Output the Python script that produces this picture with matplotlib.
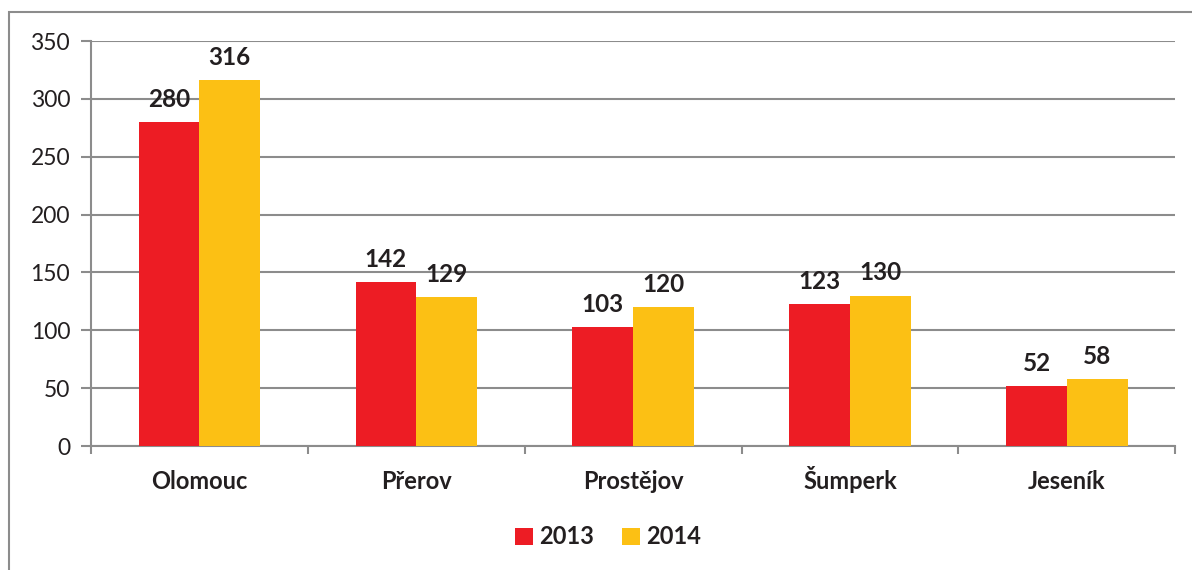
import numpy as np
from matplotlib import pyplot as plt
from matplotlib.patches import Rectangle

districts = ["Olomouc", "Přerov", "Prostějov", "Šumperk", "Jeseník"]
values_2013 = [280, 142, 103, 123, 52]
values_2014 = [316, 129, 120, 130, 58]
years = ["2013", "2014"]

red = "#ED1C24"
yellow = "#FCC014"
grey = "#8C8C8C"
dark = "#231F20"

plt.rcParams['font.family'] = ['Lato', 'DejaVu Sans']

fig = plt.figure(figsize=(11.92, 5.70), dpi=100)
ax = fig.add_axes([0.0763, 0.2175, 0.9097, 0.7105])

# outer chart frame (cut off at right and bottom like the original)
frame = Rectangle((9 / 1192, -0.05), 1.1, 1 - 12 / 570 + 0.05,
                  transform=fig.transFigure, fill=False,
                  edgecolor=grey, linewidth=1.5, clip_on=False)
fig.patches.append(frame)

x = np.arange(len(districts))
w = 0.28
bars1 = ax.bar(x - w / 2, values_2013, w, color=red, label=years[0], zorder=3)
bars2 = ax.bar(x + w / 2, values_2014, w, color=yellow, label=years[1], zorder=3)

for bars in (bars1, bars2):
    for b in bars:
        ax.annotate(str(int(b.get_height())),
                    (b.get_x() + b.get_width() / 2, b.get_height()),
                    xytext=(0, 8), textcoords="offset points",
                    ha="center", va="bottom", fontsize=17.5,
                    fontweight="bold", color=dark)

ax.set_xlim(-0.5, len(districts) - 0.5)
ax.set_ylim(0, 350)
ax.set_yticks(np.arange(0, 351, 50))
ax.yaxis.grid(True, color=grey, linewidth=1.5, zorder=0)
ax.set_axisbelow(True)

ax.set_xticks(x)
ax.set_xticklabels(districts, fontsize=17, fontweight="bold", color=dark,
                   va="baseline")
ax.tick_params(axis="x", length=0, pad=31)
ax.set_xticks(np.arange(-0.5, len(districts)), minor=True)
ax.tick_params(axis="x", which="minor", length=6, width=1.5, color=grey)
ax.tick_params(axis="y", length=7, width=1.5, color=grey, labelsize=16.5,
               labelcolor=dark, pad=8)

for s in ["top", "right"]:
    ax.spines[s].set_visible(False)
for s in ["left", "bottom"]:
    ax.spines[s].set_color(grey)
    ax.spines[s].set_linewidth(1.5)

leg = fig.legend(loc="center", bbox_to_anchor=(0.51, 0.058), ncol=2,
                 frameon=False, prop={"size": 17, "weight": "bold"},
                 handlelength=0.75, handleheight=0.75, handletextpad=0.25,
                 columnspacing=1.2)
for t in leg.get_texts():
    t.set_color(dark)

fig.savefig("out.png", dpi=100)
